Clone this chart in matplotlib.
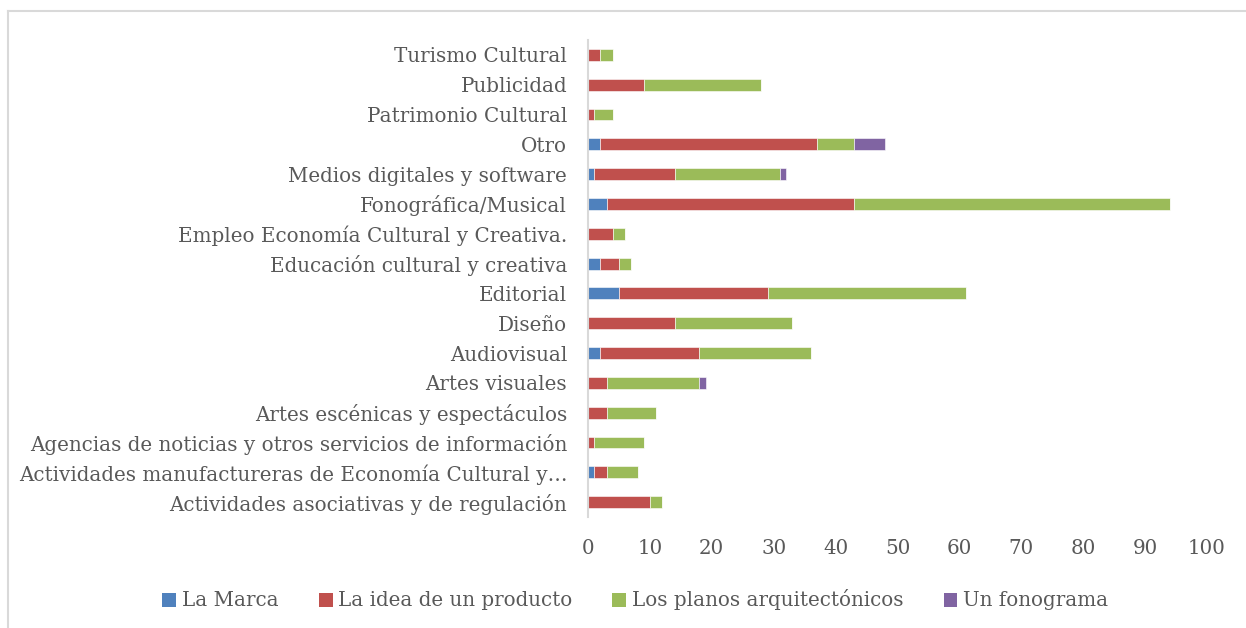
import matplotlib
matplotlib.use("Agg")
import matplotlib.pyplot as plt
from matplotlib.patches import Patch
from matplotlib.lines import Line2D
import numpy as np

categories = [
    "Actividades asociativas y de regulación",
    "Actividades manufactureras de Economía Cultural y…",
    "Agencias de noticias y otros servicios de información",
    "Artes escénicas y espectáculos",
    "Artes visuales",
    "Audiovisual",
    "Diseño",
    "Editorial",
    "Educación cultural y creativa",
    "Empleo Economía Cultural y Creativa.",
    "Fonográfica/Musical",
    "Medios digitales y software",
    "Otro",
    "Patrimonio Cultural",
    "Publicidad",
    "Turismo Cultural",
]
series_names = ["La Marca", "La idea de un producto", "Los planos arquitectónicos", "Un fonograma"]
la_marca = [0, 1, 0, 0, 0, 2, 0, 5, 2, 0, 3, 1, 2, 0, 0, 0]
idea_producto = [10, 2, 1, 3, 3, 16, 14, 24, 3, 4, 40, 13, 35, 1, 9, 2]
planos = [2, 5, 8, 8, 15, 18, 19, 32, 2, 2, 51, 17, 6, 3, 19, 2]
fonograma = [0, 0, 0, 0, 1, 0, 0, 0, 0, 0, 0, 1, 5, 0, 0, 0]
x_ticks = [0, 10, 20, 30, 40, 50, 60, 70, 80, 90, 100]

colors = ["#4F81BD", "#C0504D", "#9BBB59", "#8064A2"]
text_color = "#595959"
font = "DejaVu Serif"
fs = 14.3

fig = plt.figure(figsize=(12.46, 6.28), dpi=100)
W, H = 1246, 628
ax = fig.add_axes([588 / W, 1 - 517 / H, 619 / W, 477 / H])

y = np.arange(len(categories))
left = np.zeros(len(categories))
for vals, name, c in zip([la_marca, idea_producto, planos, fonograma], series_names, colors):
    v = np.array(vals, dtype=float)
    ax.barh(y, v, left=left, height=0.4, color=c, edgecolor="white", linewidth=0.4, label=name)
    left += v

ax.set_xlim(0, 100)
ax.set_ylim(-0.5, len(categories) - 0.5)
ax.set_yticks(y)
ax.set_yticklabels(categories, fontsize=fs, family=font, color=text_color)
ax.set_xticks(x_ticks)
ax.set_xticklabels([str(t) for t in x_ticks], fontsize=fs, family=font, color=text_color)
ax.tick_params(axis="both", length=0)
ax.tick_params(axis="y", pad=15)
ax.tick_params(axis="x", pad=16)
for s in ["top", "right", "bottom"]:
    ax.spines[s].set_visible(False)
ax.spines["left"].set_color("#D9D9D9")
ax.spines["left"].set_linewidth(1.5)

handles = [Patch(facecolor=c, edgecolor="none") for c in colors]
leg = fig.legend(handles, series_names, loc="center", bbox_to_anchor=(0.51, 1 - 600 / H), ncol=4,
                 frameon=False, handlelength=0.7, handleheight=0.7, handletextpad=0.3,
                 columnspacing=2.0, prop={"family": font, "size": fs})
for t in leg.get_texts():
    t.set_color(text_color)

bx, by = 8 / W, 1 - 11 / H
fig.add_artist(Line2D([bx, bx], [0, by], transform=fig.transFigure, color="#D9D9D9", linewidth=1.5))
fig.add_artist(Line2D([bx, 1], [by, by], transform=fig.transFigure, color="#D9D9D9", linewidth=1.5))

fig.savefig("out.png", dpi=100)
